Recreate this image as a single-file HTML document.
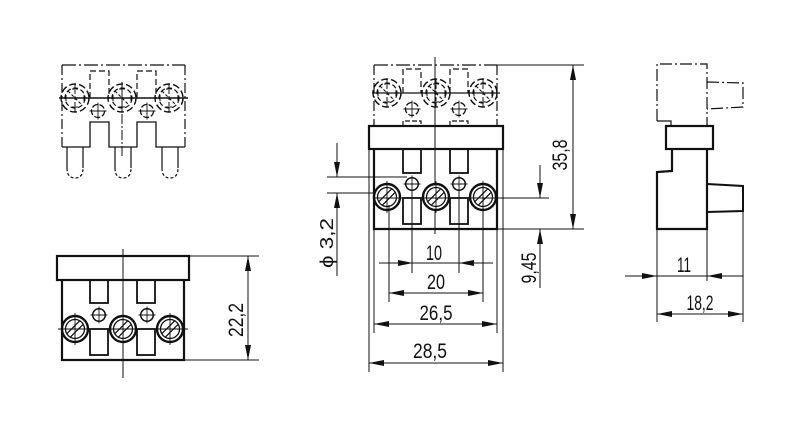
<!DOCTYPE html>
<html><head><meta charset="utf-8"><style>
html,body{margin:0;padding:0;background:#fff;}
svg{display:block;}
text{font-family:"Liberation Sans","DejaVu Sans",sans-serif;fill:#111;}
</style></head><body>
<svg width="800" height="434" viewBox="0 0 800 434" xmlns="http://www.w3.org/2000/svg">
<defs>
<g id="screw">
 <circle r="13" fill="#fff" stroke="#111" stroke-width="2.4"/>
 <circle r="9.5" fill="none" stroke="#111" stroke-width="1.3"/>
 <line x1="-8.2" y1="4.7" x2="4.7" y2="-8.2" stroke="#111" stroke-width="1.3"/>
 <line x1="-4.7" y1="8.2" x2="8.2" y2="-4.7" stroke="#111" stroke-width="1.3"/>
 <line x1="0" y1="-16" x2="0" y2="16" stroke="#111" stroke-width="0.9"/>
</g>
<g id="dscrew" fill="none" stroke="#111">
 <circle r="14" stroke-width="1.4" stroke-dasharray="7 3"/>
 <circle r="10" stroke-width="1.2" stroke-dasharray="5 2.5"/>
 <line x1="0" y1="-14" x2="0" y2="14" stroke-width="1" stroke-dasharray="4 2"/>
 <line x1="-7" y1="-7" x2="7" y2="7" stroke-width="1.1" stroke-dasharray="3 2"/>
 <line x1="-3" y1="-9" x2="3" y2="-9" stroke-width="1"/>
 <line x1="-3" y1="9" x2="3" y2="9" stroke-width="1"/>
 <line x1="-9" y1="-3" x2="-9" y2="3" stroke-width="1"/>
 <line x1="9" y1="-3" x2="9" y2="3" stroke-width="1"/>
</g>
<g id="hole">
 <circle r="6.3" fill="#fff" stroke="#111" stroke-width="1.5"/>
 <line x1="-8.5" y1="0" x2="8.5" y2="0" stroke="#111" stroke-width="0.9"/>
 <line x1="0" y1="-8.5" x2="0" y2="8.5" stroke="#111" stroke-width="0.9"/>
</g>
<g id="dhole">
 <circle r="6.5" fill="#fff" stroke="#111" stroke-width="1.3" stroke-dasharray="6 2"/>
 <line x1="-8.5" y1="0" x2="8.5" y2="0" stroke="#111" stroke-width="0.9"/>
 <line x1="0" y1="-8.5" x2="0" y2="8.5" stroke="#111" stroke-width="0.9"/>
</g>
</defs>

<!-- ============ TOP-LEFT VIEW (phantom) ============ -->
<g fill="none" stroke="#111">
 <line x1="62" y1="65" x2="185" y2="65" stroke-width="1.2" stroke-dasharray="14 3 2 3"/>
 <line x1="62" y1="65" x2="62" y2="147" stroke-width="1.2" stroke-dasharray="10 3 2 3"/>
 <line x1="185" y1="65" x2="185" y2="147" stroke-width="1.2" stroke-dasharray="10 3 2 3"/>
 <path d="M90 98 V71 H109 V98 M137 98 V71 H156 V98" stroke-width="1.2" stroke-dasharray="6 3"/>
 <path d="M62 147 H90 V122 H109 V147 H137 V122 H156 V147 H185" stroke-width="1.3"/>
 <path d="M67 147 V168 M83 147 V168 M115 147 V168 M131 147 V168 M162 147 V168 M178 147 V168" stroke-width="1.2"/>
 <path d="M67 168 Q67 178 75 178 Q83 178 83 168 M115 168 Q115 178 123 178 Q131 178 131 168 M162 168 Q162 178 170 178 Q178 178 178 168" stroke-width="1.2" stroke-dasharray="3 2"/>
 <line x1="122" y1="82" x2="122" y2="158" stroke-width="1" stroke-dasharray="10 2 2 2"/>
</g>
<use href="#dscrew" x="75" y="98"/>
<use href="#dscrew" x="122" y="98"/>
<use href="#dscrew" x="169" y="98"/>
<line x1="59" y1="98" x2="188" y2="98" stroke="#111" stroke-width="1.5"/>
<use href="#dhole" x="98" y="111"/>
<use href="#dhole" x="147" y="111"/>

<!-- ============ BOTTOM-LEFT VIEW ============ -->
<g fill="none" stroke="#111">
 <rect x="57" y="256" width="132" height="24" stroke-width="2.2"/>
 <path d="M62 280 V360 H184 V280" stroke-width="2.2"/>
 <rect x="90" y="280" width="18" height="23" stroke-width="1.8"/>
 <rect x="137" y="280" width="18" height="23" stroke-width="1.8"/>
 <rect x="90" y="329" width="18" height="26" stroke-width="1.8"/>
 <rect x="137" y="329" width="18" height="26" stroke-width="1.8"/>
 <line x1="123" y1="249" x2="123" y2="378" stroke-width="1"/>
</g>
<use href="#hole" x="99" y="315"/>
<use href="#hole" x="147" y="315"/>
<use href="#screw" x="75" y="329"/>
<use href="#screw" x="123" y="329"/>
<use href="#screw" x="170" y="329"/>
<line x1="58" y1="329" x2="188" y2="329" stroke="#111" stroke-width="0.9"/>
<g stroke="#111" stroke-width="1">
 <line x1="189" y1="256" x2="259" y2="256"/>
 <line x1="184" y1="360" x2="259" y2="360"/>
 <line x1="248" y1="256" x2="248" y2="360"/>
</g>
<polygon points="248,256 245,271 251,271" fill="#111"/>
<polygon points="248,360 245,345 251,345" fill="#111"/>
<text transform="translate(243,320) rotate(-90)" font-size="21" text-anchor="middle" textLength="34" lengthAdjust="spacingAndGlyphs">22,2</text>

<!-- ============ MIDDLE VIEW ============ -->
<g fill="none" stroke="#111">
 <line x1="374" y1="65" x2="497" y2="65" stroke-width="1.2" stroke-dasharray="14 3 2 3"/>
 <line x1="497" y1="65" x2="584" y2="65" stroke-width="1"/>
 <line x1="374" y1="65" x2="374" y2="126" stroke-width="1.2" stroke-dasharray="10 3 2 3"/>
 <line x1="497" y1="65" x2="497" y2="126" stroke-width="1.2" stroke-dasharray="10 3 2 3"/>
 <path d="M403 93 V69 H421 V93 M450 93 V69 H468 V93" stroke-width="1.2" stroke-dasharray="6 3"/>
 <path d="M403 126 V121 H421 V126 M450 126 V121 H468 V126" stroke-width="1.2" stroke-dasharray="5 2"/>
 <line x1="435" y1="57" x2="435" y2="234" stroke-width="1"/>
</g>
<use href="#dscrew" x="387" y="93"/>
<use href="#dscrew" x="436" y="93"/>
<use href="#dscrew" x="483" y="93"/>
<line x1="372" y1="93" x2="500" y2="93" stroke="#111" stroke-width="1.3"/>
<use href="#dhole" x="412" y="109"/>
<use href="#dhole" x="459" y="109"/>

<g fill="none" stroke="#111">
 <rect x="369" y="126" width="134" height="23" stroke-width="2.2"/>
 <path d="M374 149 V229 H497 V149" stroke-width="2.2"/>
 <line x1="369" y1="149" x2="369" y2="372" stroke-width="1"/>
 <line x1="503" y1="149" x2="503" y2="372" stroke-width="1"/>
 <rect x="403" y="149" width="18" height="24" stroke-width="1.8"/>
 <rect x="450" y="149" width="18" height="24" stroke-width="1.8"/>
 <rect x="403" y="198" width="18" height="26" stroke-width="1.8"/>
 <rect x="450" y="198" width="18" height="26" stroke-width="1.8"/>
</g>
<use href="#hole" x="412" y="184"/>
<use href="#hole" x="459" y="184"/>
<use href="#screw" x="387" y="197"/>
<use href="#screw" x="436" y="197"/>
<use href="#screw" x="483" y="197"/>
<g stroke="#111" stroke-width="1" fill="none">
 <line x1="374" y1="198" x2="549" y2="198"/>
 <line x1="497" y1="229" x2="584" y2="229"/>
 <line x1="389" y1="205" x2="389" y2="302"/>
 <line x1="483" y1="205" x2="483" y2="302"/>
 <line x1="412" y1="190" x2="412" y2="273"/>
 <line x1="459" y1="190" x2="459" y2="273"/>
 <line x1="374" y1="229" x2="374" y2="333"/>
 <line x1="497" y1="229" x2="497" y2="333"/>
 <line x1="379" y1="263" x2="493" y2="263"/>
 <line x1="389" y1="293" x2="483" y2="293"/>
 <line x1="374" y1="324" x2="497" y2="324"/>
 <line x1="369" y1="363" x2="503" y2="363"/>
 <line x1="327" y1="177" x2="407" y2="177"/>
 <line x1="327" y1="193" x2="375" y2="193"/>
 <line x1="337" y1="143" x2="337" y2="177"/>
 <line x1="337" y1="193" x2="337" y2="276"/>
 <line x1="540" y1="165" x2="540" y2="198"/>
 <line x1="540" y1="229" x2="540" y2="288"/>
 <line x1="573" y1="65" x2="573" y2="229"/>
</g>
<g fill="#111">
 <polygon points="413,263 398,260 398,266"/>
 <polygon points="459,263 474,260 474,266"/>
 <polygon points="389,293 404,290 404,296"/>
 <polygon points="483,293 468,290 468,296"/>
 <polygon points="374,324 389,321 389,327"/>
 <polygon points="497,324 482,321 482,327"/>
 <polygon points="369,363 384,360 384,366"/>
 <polygon points="503,363 488,360 488,366"/>
 <polygon points="337,177 334,162 340,162"/>
 <polygon points="337,193 334,208 340,208"/>
 <polygon points="540,198 537,183 543,183"/>
 <polygon points="540,229 537,244 543,244"/>
 <polygon points="573,65 570,80 576,80"/>
 <polygon points="573,229 570,214 576,214"/>
</g>
<text x="434" y="260" font-size="21" text-anchor="middle" textLength="16" lengthAdjust="spacingAndGlyphs">10</text>
<text x="436" y="289" font-size="21" text-anchor="middle" textLength="18" lengthAdjust="spacingAndGlyphs">20</text>
<text x="436" y="320" font-size="21" text-anchor="middle" textLength="33" lengthAdjust="spacingAndGlyphs">26,5</text>
<text x="430" y="358" font-size="21" text-anchor="middle" textLength="34" lengthAdjust="spacingAndGlyphs">28,5</text>
<text transform="translate(333,243) rotate(-90)" font-size="18" text-anchor="middle" textLength="50" lengthAdjust="spacingAndGlyphs">ϕ 3,2</text>
<text transform="translate(536,268) rotate(-90)" font-size="21" text-anchor="middle" textLength="31" lengthAdjust="spacingAndGlyphs">9,45</text>
<text transform="translate(567,155) rotate(-90)" font-size="21" text-anchor="middle" textLength="31" lengthAdjust="spacingAndGlyphs">35,8</text>

<!-- ============ RIGHT VIEW ============ -->
<g fill="none" stroke="#111">
 <path d="M657 121 V64 H707 V126" stroke-width="1.2" stroke-dasharray="12 3 2 3"/>
 <path d="M657 121 H671 V126" stroke-width="1.2"/>
 <path d="M707 82 L743 83 V107 L707 109" stroke-width="1.2" stroke-dasharray="12 3 2 3"/>
 <rect x="666" y="126" width="47" height="23" stroke-width="2.2"/>
 <path d="M672 149 V171 L657 172 V229 H707 V149" stroke-width="2.2"/>
 <path d="M707 184 L743 186 V211 L707 212" stroke-width="2"/>
</g>
<g stroke="#111" stroke-width="1">
 <line x1="657" y1="229" x2="657" y2="322"/>
 <line x1="707" y1="229" x2="707" y2="281"/>
 <line x1="743" y1="211" x2="743" y2="322"/>
 <line x1="625" y1="276" x2="743" y2="276"/>
 <line x1="657" y1="314" x2="743" y2="314"/>
</g>
<g fill="#111">
 <polygon points="657,276 642,273 642,279"/>
 <polygon points="707,276 722,273 722,279"/>
 <polygon points="657,314 672,311 672,317"/>
 <polygon points="743,314 728,311 728,317"/>
</g>
<text x="684" y="272" font-size="21" text-anchor="middle" textLength="14" lengthAdjust="spacingAndGlyphs">11</text>
<text x="700" y="310" font-size="21" text-anchor="middle" textLength="27" lengthAdjust="spacingAndGlyphs">18,2</text>
</svg>
</body></html>
